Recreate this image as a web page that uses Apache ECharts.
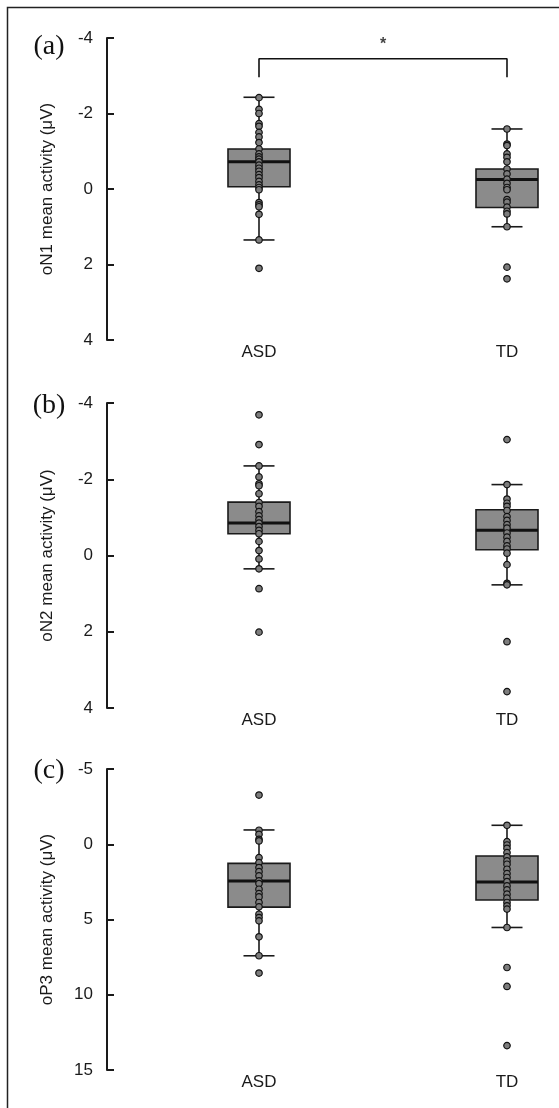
<!DOCTYPE html>
<html>
<head>
<meta charset="utf-8">
<script src="https://cdn.jsdelivr.net/npm/echarts@6/dist/echarts.min.js"></script>
<style>
  html, body { margin: 0; padding: 0; background: #fff; }
  #chart { width: 559px; height: 1108px; }
</style>
</head>
<body>
<div id="chart"></div>
<script>
// groups
var groups = ['ASD', 'TD'];

// panel (a) oN1 - single values
var aAsd = [-2.42, -2.11, -2.0, -1.73, -1.66, -1.5, -1.38, -1.23, -1.06, -0.93, -0.85, -0.79, -0.72, -0.63, -0.55, -0.47, -0.38, -0.3, -0.2, -0.11, -0.04, 0.02, 0.36, 0.42, 0.47, 0.67, 1.35, 2.1];
var aTd = [-1.59, -1.19, -1.15, -0.93, -0.84, -0.72, -0.53, -0.4, -0.26, -0.15, -0.04, 0.02, 0.28, 0.35, 0.48, 0.59, 0.66, 1.0, 2.07, 2.38];
// box stats: min, q1, median, q3, max
var aStats = [[-2.43, -1.06, -0.72, -0.06, 1.35], [-1.59, -0.53, -0.25, 0.49, 1.0]];

// panel (b) oN2
var bAsd = [-3.69, -2.91, -2.35, -2.06, -1.88, -1.83, -1.62, -1.39, -1.29, -1.15, -1.04, -0.94, -0.85, -0.76, -0.66, -0.57, -0.37, -0.13, 0.09, 0.35, 0.87, 2.01];
var bTd = [-3.04, -1.86, -1.48, -1.37, -1.29, -1.18, -1.02, -0.92, -0.81, -0.72, -0.59, -0.48, -0.37, -0.25, -0.17, -0.06, 0.24, 0.73, 0.77, 2.26, 3.57];
var bStats = [[-2.35, -1.4, -0.85, -0.57, 0.35], [-1.86, -1.2, -0.66, -0.15, 0.77]];

// panel (c) oP3
var cAsd = [-3.27, -0.93, -0.66, -0.33, -0.22, 0.89, 1.22, 1.55, 1.82, 2.1, 2.43, 2.61, 2.99, 3.28, 3.5, 3.87, 4.16, 4.65, 4.87, 5.09, 6.15, 7.41, 8.56];
var cTd = [-1.26, -0.17, 0.05, 0.27, 0.56, 0.84, 1.11, 1.33, 1.66, 1.95, 2.21, 2.48, 2.77, 3.03, 3.32, 3.58, 3.87, 4.09, 4.31, 5.53, 8.19, 9.45, 13.38];
var cStats = [[-0.95, 1.27, 2.45, 4.18, 7.41], [-1.26, 0.78, 2.5, 3.7, 5.53]];

// significance bracket for (a)
var bracket = [[1, -2.96], [1, -3.45], [2, -3.45], [2, -2.96]];
var star = [[1.5, -3.83]];

var panels = [
    { label: '(a)', dy: 9, name: 'oN1 mean activity (μV)', top: 38, height: 302, min: -4, max: 4, step: 2, asd: aAsd, td: aTd, stats: aStats },
    { label: '(b)', dy: 3, name: 'oN2 mean activity (μV)', top: 403, height: 305, min: -4, max: 4, step: 2, asd: bAsd, td: bTd, stats: bStats },
    { label: '(c)', dy: 2, name: 'oP3 mean activity (μV)', top: 769, height: 301, min: -5, max: 15, step: 5, asd: cAsd, td: cTd, stats: cStats }
];

var font = '"Liberation Sans", Arial, sans-serif';
var dom = document.getElementById('chart');
var myChart = echarts.init(dom, null, { renderer: 'canvas' });

function boxItem(params, api) {
    var x = api.value(0);
    var lo = api.coord([x, api.value(1)]);
    var q1 = api.coord([x, api.value(2)]);
    var md = api.coord([x, api.value(3)]);
    var q3 = api.coord([x, api.value(4)]);
    var hi = api.coord([x, api.value(5)]);
    var cx = lo[0], bw = 62, cw = 31;
    var ln = { stroke: '#1a1a1a', lineWidth: 1.6 };
    return {
        type: 'group',
        children: [
            { type: 'line', shape: { x1: cx, y1: lo[1], x2: cx, y2: hi[1] }, style: ln },
            { type: 'line', shape: { x1: cx - cw / 2, y1: lo[1], x2: cx + cw / 2, y2: lo[1] }, style: ln },
            { type: 'line', shape: { x1: cx - cw / 2, y1: hi[1], x2: cx + cw / 2, y2: hi[1] }, style: ln },
            { type: 'rect', shape: { x: cx - bw / 2, y: Math.min(q1[1], q3[1]), width: bw, height: Math.abs(q3[1] - q1[1]) },
              style: { fill: '#8b8b8b', stroke: '#1a1a1a', lineWidth: 1.6 } },
            { type: 'line', shape: { x1: cx - bw / 2, y1: md[1], x2: cx + bw / 2, y2: md[1] }, style: { stroke: '#111', lineWidth: 3 } }
        ]
    };
}

var grid = [], xAxis = [], yAxis = [], series = [], graphic = [];

// frame (left and top edges show)
graphic.push({ type: 'rect', left: 5, top: 5, shape: { width: 700, height: 1200 }, style: { fill: 'none', stroke: '#222', lineWidth: 1.5 }, silent: true });

panels.forEach(function (p, i) {
    grid.push({ left: 107, right: 0, top: p.top, height: p.height });
    xAxis.push({
        gridIndex: i, type: 'value', min: 0.3871, max: 2.2097,
        axisLine: { show: false }, axisTick: { show: false }, splitLine: { show: false },
        axisLabel: {
            customValues: [1, 2], margin: 4,
            formatter: function (v) { return groups[Math.round(v) - 1] || ''; },
            fontSize: 17, color: '#1a1a1a', fontFamily: font
        }
    });
    yAxis.push({
        gridIndex: i, type: 'value', inverse: true, min: p.min, max: p.max, interval: p.step,
        name: p.name, nameLocation: 'middle', nameRotate: 90, nameGap: 51,
        nameTextStyle: { fontSize: 17, color: '#1a1a1a', fontFamily: font },
        axisLine: { show: true, lineStyle: { color: '#1a1a1a', width: 2 } },
        axisTick: { show: true, inside: true, length: 7, lineStyle: { color: '#1a1a1a', width: 2 } },
        axisLabel: { fontSize: 17, color: '#1a1a1a', margin: 14, fontFamily: font },
        splitLine: { show: false }
    });
    series.push({
        type: 'custom', xAxisIndex: i, yAxisIndex: i, renderItem: boxItem, z: 2,
        encode: { x: 0, y: [1, 2, 3, 4, 5] },
        data: p.stats.map(function (s, k) { return [k + 1].concat(s); })
    });
    var pts = p.asd.map(function (v) { return [1, v]; }).concat(p.td.map(function (v) { return [2, v]; }));
    series.push({
        type: 'scatter', xAxisIndex: i, yAxisIndex: i, z: 5,
        symbol: 'circle', symbolSize: 6.5,
        itemStyle: { color: '#7d7d7d', borderColor: '#111', borderWidth: 1.2, opacity: 1 },
        data: pts
    });
    graphic.push({
        type: 'text', x: 49, y: p.top + p.dy,
        style: { text: p.label, font: '28px "Liberation Serif", "Times New Roman", serif', fill: '#111', textAlign: 'center', textVerticalAlign: 'middle' }
    });
});

series.push({
    type: 'line', xAxisIndex: 0, yAxisIndex: 0, symbol: 'none', z: 3,
    lineStyle: { color: '#111', width: 1.6 }, data: bracket
});
series.push({
    type: 'scatter', xAxisIndex: 0, yAxisIndex: 0, symbolSize: 0, z: 3,
    label: { show: true, position: 'inside', formatter: '*', fontSize: 16, fontWeight: 'bold', color: '#111', fontFamily: font },
    data: star
});

var option = {
    animation: false,
    backgroundColor: '#fff',
    grid: grid,
    xAxis: xAxis,
    yAxis: yAxis,
    series: series,
    graphic: graphic
};
myChart.setOption(option);
window.addEventListener('resize', myChart.resize);
</script>
</body>
</html>
